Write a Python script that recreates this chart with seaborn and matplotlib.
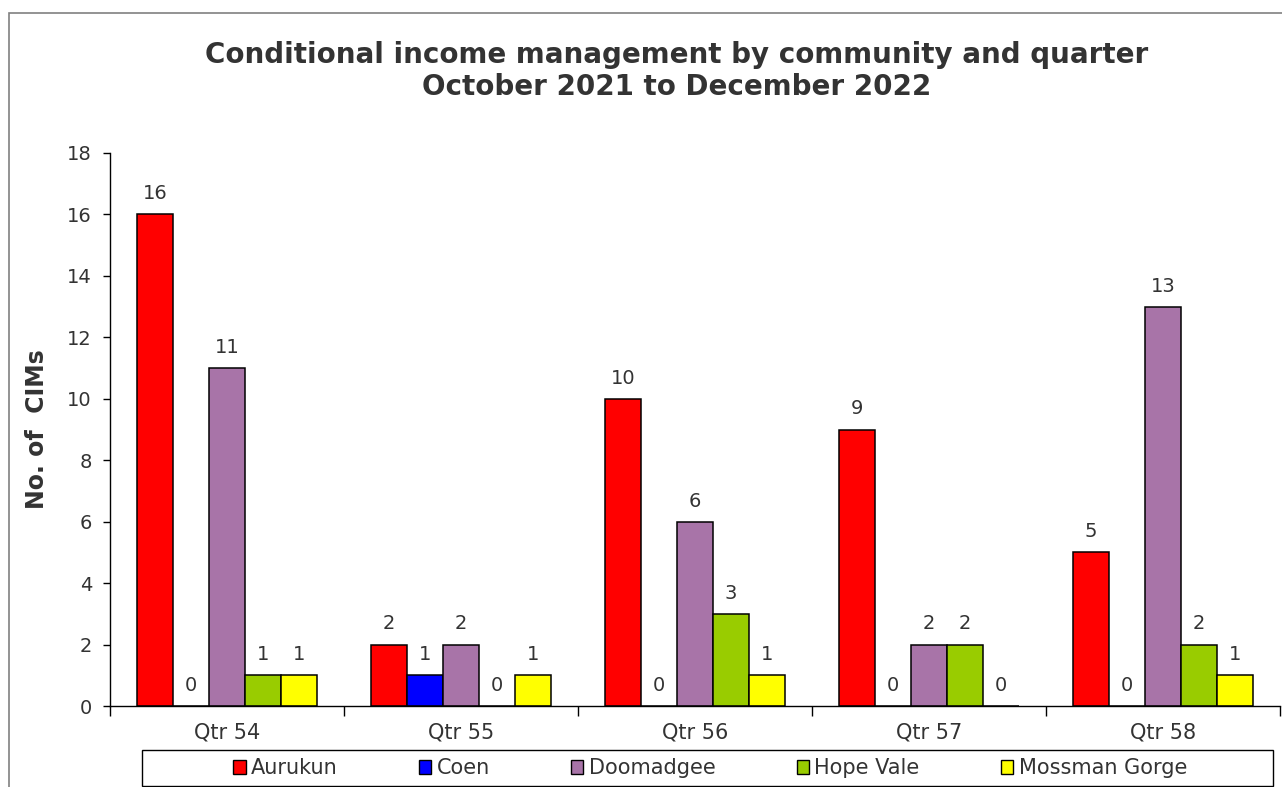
import numpy as np
import pandas as pd
import matplotlib.pyplot as plt
import matplotlib.patches as mpatches
from matplotlib.ticker import FixedLocator, NullFormatter
import seaborn as sns

# Chart data
quarters = ['Qtr 54', 'Qtr 55', 'Qtr 56', 'Qtr 57', 'Qtr 58']
communities = ['Aurukun', 'Coen', 'Doomadgee', 'Hope Vale', 'Mossman Gorge']
aurukun = [16, 2, 10, 9, 5]
coen = [0, 1, 0, 0, 0]
doomadgee = [11, 2, 6, 2, 13]
hope_vale = [1, 0, 3, 2, 2]
mossman_gorge = [1, 1, 1, 0, 1]
y_ticks = [0, 2, 4, 6, 8, 10, 12, 14, 16, 18]

colours = ['#FF0000', '#0000FF', '#A874A8', '#99CC00', '#FFFF00']
text_col = '#333333'

# long form table for seaborn
series = [aurukun, coen, doomadgee, hope_vale, mossman_gorge]
rows = []
for name, vals in zip(communities, series):
    for q, v in zip(quarters, vals):
        rows.append({'quarter': q, 'community': name, 'cims': v})
df = pd.DataFrame(rows)

sns.set_style('white')
plt.rcParams['font.family'] = ['DejaVu Sans']

W, H = 1282, 787
fig = plt.figure(figsize=(W / 100, H / 100), dpi=100)
ax = fig.add_axes([110 / W, 1 - 706 / H, 1170 / W, (706 - 153) / H])

sns.barplot(data=df, x='quarter', y='cims', hue='community', order=quarters,
            hue_order=communities, palette=colours, width=0.77,
            edgecolor='black', linewidth=1.1, saturation=1, ax=ax)
ax.get_legend().remove()

# value labels on top of each bar
for container in ax.containers:
    ax.bar_label(container, fmt='%d', padding=8, fontsize=14, color=text_col)

ax.set_ylim(0, 18)
ax.set_yticks(y_ticks)
ax.set_xlim(-0.5, 4.5)
ax.xaxis.set_major_locator(FixedLocator(np.arange(-0.5, 5, 1.0)))
ax.xaxis.set_major_formatter(NullFormatter())
ax.xaxis.set_minor_locator(FixedLocator(range(len(quarters))))
ax.set_xticklabels(quarters, minor=True)
ax.tick_params(axis='x', which='major', direction='out', length=7, width=1, color='black', bottom=True)
ax.tick_params(axis='x', which='minor', length=0, pad=12, labelsize=15, labelcolor=text_col)
ax.tick_params(axis='y', direction='out', length=5, width=1, color='black', left=True,
               labelsize=14, labelcolor=text_col, pad=8)

ax.set_xlabel('')
ax.set_ylabel('No. of  CIMs', fontsize=17, fontweight='bold', color=text_col, labelpad=13)

for side in ['top', 'right']:
    ax.spines[side].set_visible(False)
for side in ['left', 'bottom']:
    ax.spines[side].set_color('black')
    ax.spines[side].set_linewidth(1)

fig.text(677 / W, 1 - 71 / H,
         'Conditional income management by community and quarter\nOctober 2021 to December 2022',
         ha='center', va='center', fontsize=20, fontweight='bold', color=text_col,
         multialignment='center', linespacing=1.2)

# legend along the bottom, frame drawn separately
handles = [mpatches.Patch(facecolor=c, edgecolor='black', linewidth=1) for c in colours]
leg = fig.legend(handles, communities, loc='center', ncol=5,
                 bbox_to_anchor=(710 / W, 1 - 768 / H),
                 fontsize=15, frameon=False, handlelength=0.6,
                 handleheight=0.65, handletextpad=0.25, columnspacing=3.9,
                 borderaxespad=0, labelcolor=text_col)
fig.patches.append(mpatches.Rectangle((142 / W, 1 - 786 / H), (1273 - 142) / W, 36 / H,
                                      transform=fig.transFigure, fill=False,
                                      edgecolor='black', linewidth=1))

# outer chart border (cut off at right and bottom)
fig.patches.append(mpatches.Rectangle((9 / W, -0.05), 1.1, 1.05 - 13 / H,
                                      transform=fig.transFigure, fill=False,
                                      edgecolor='#808080', linewidth=1.2))

fig.savefig('out.png', dpi=100)
